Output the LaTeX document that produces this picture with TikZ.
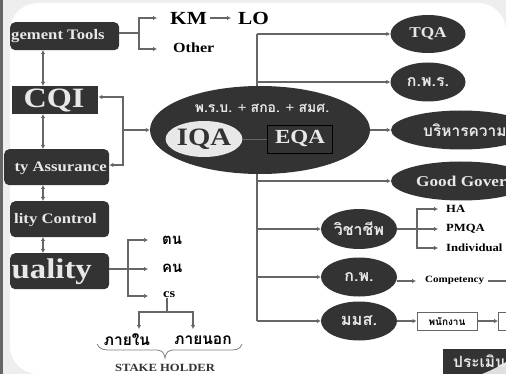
\documentclass[tikz,border=0pt]{standalone}
\usepackage{fontspec}
\setmainfont[FakeStretch=1.15]{Liberation Serif}
\newfontfamily\thaifont[Script=Thai]{Loma}
\usetikzlibrary{arrows.meta,shapes.geometric}
\definecolor{dk}{HTML}{333333}
\definecolor{ln}{HTML}{666666}
\definecolor{lt}{HTML}{E8E8E8}
\newcommand{\fsz}[1]{\fontsize{#1}{#1}\selectfont}
\tikzset{
  x=1pt,y=-1pt,
  conn/.style={draw=ln,line width=1.2pt,-{Latex[length=4pt,width=4.5pt]}},
  plainline/.style={draw=ln,line width=1.2pt},
  both/.style={draw=ln,line width=1.2pt,{Latex[length=4pt,width=4.5pt]}-{Latex[length=4pt,width=4.5pt]}},
  box/.style={fill=dk,rounded corners=5pt,inner sep=0pt},
  oval/.style={ellipse,fill=dk,inner sep=0pt,text=lt,font=\bfseries},
  onbox/.style={inner sep=0pt,text=lt},
  lab/.style={inner sep=0pt,text=black,font=\bfseries},
  wbox/.style={draw=ln,fill=white,line width=.9pt,inner sep=0pt},
  small/.style={lab,font=\bfseries\fsz{11},anchor=west},
}
\begin{document}
\begin{tikzpicture}
\useasboundingbox (0,0) rectangle (506,374);
\clip (0,0) rectangle (506,374);
\fill[gray!13] (0,0) rectangle (506,374);
\fill[white,rounded corners=28pt] (10,3) rectangle (506,374);
\fill[ln] (0,0) rectangle (3,374);
% left column
\node[box,minimum width=109,minimum height=28,anchor=north west] (tools) at (10,22) {};
\node[onbox,font=\bfseries\fsz{14.5},anchor=west] at (11,36) {gement Tools};
\node[box,rounded corners=0pt,minimum width=86,minimum height=28,anchor=north west] (cqi) at (12,86) {};
\node[onbox,font=\bfseries\fsz{28}] at (54,101) {CQI};
\node[box,minimum width=105,minimum height=36,anchor=north west] (assur) at (4,149) {};
\node[onbox,font=\bfseries\fsz{14.5},anchor=east] at (107,168) {ty Assurance};
\node[box,minimum width=99,minimum height=36,anchor=north west] (qc) at (10,201) {};
\node[onbox,font=\bfseries\fsz{14.5},anchor=east] at (97,220) {lity Control};
\node[box,minimum width=99,minimum height=36,anchor=north west] (qual) at (10,253) {};
\node[onbox,font=\bfseries\fsz{28.5},anchor=east] at (92,272) {uality};
% double arrows
\coordinate (t1) at (43,50);\coordinate (c1) at (43,86);
\coordinate (c2) at (43,114);\coordinate (a1) at (43,149);
\coordinate (a2) at (43,185);\coordinate (q1) at (43,201);
\coordinate (q2) at (43,237);\coordinate (u1) at (43,253);
\draw[both] (t1)--(c1);\draw[both] (c2)--(a1);\draw[both] (a2)--(q1);\draw[both] (q2)--(u1);
% KM
\node[lab,font=\bfseries\fsz{18.5},anchor=west] (km) at (170,18) {KM};
\node[lab,font=\bfseries\fsz{18.5},anchor=west] (lo) at (238,18) {LO};
\node[lab,font=\bfseries\fsz{14},anchor=west] (other) at (173,48) {Other};
\draw[conn,shorten >=7pt,shorten <=3pt] (km)--(lo);
\coordinate (tj) at (139,33);
\draw[plainline] (tools.east |- tj)--(tj);
\draw[conn] (tj)|-(157,18);
\draw[conn] (tj)|-(157,49);
% bus (passes behind the central ellipse)
\coordinate (bt) at (257,34);\coordinate (bb) at (257,321);
\draw[plainline] (bb)--(bt);
% central
\node[oval,minimum width=220,minimum height=88] (iqaeqa) at (260,130) {};
\node[onbox,font=\bfseries\fsz{14}] at (262,108) {{\thaifont พ.ร.บ.} + {\thaifont สกอ.} + {\thaifont สมศ.}};
\node[ellipse,fill=lt,minimum width=74,minimum height=36,inner sep=0pt,font=\bfseries\fsz{25},text=dk] (iqa) at (204,139) {IQA};
\node[rectangle,draw=black,fill=dk,minimum width=65,minimum height=28,inner sep=0pt,text=lt,font=\bfseries\fsz{20}] (eqa) at (300,139) {EQA};
\draw[draw=ln,line width=.5pt] (iqa)--(eqa);
% loop
\coordinate (lp1) at (123,97);\coordinate (lp2) at (123,165);\coordinate (lp3) at (123,130);
\draw[both] (cqi.east |- lp1)--(lp1)--(lp2)--(assur.east |- lp2);
\draw[conn] (lp3)--(iqaeqa.west);
\node[oval,minimum width=75,minimum height=38,font=\bfseries\fsz{15}] (tqa) at (428,34) {TQA};
\node[oval,minimum width=75,minimum height=39,font=\thaifont\bfseries\fsz{16}] (kpr) at (428,82) {ก.พ.ร.};
\node[oval,minimum width=140,minimum height=39] (bor) at (461,130) {};
\node[onbox,font=\thaifont\bfseries\fsz{15.5},anchor=west] at (423,130) {บริหารความ};
\node[oval,minimum width=140,minimum height=39] (good) at (461,181) {};
\node[onbox,font=\bfseries\fsz{15},anchor=west] at (416,181) {Good Gover};
\node[oval,minimum width=76,minimum height=40,font=\thaifont\bfseries\fsz{16}] (wc) at (359,229) {วิชาชีพ};
\node[oval,minimum width=76,minimum height=39,font=\thaifont\bfseries\fsz{16}] (kp) at (359,277) {ก.พ.};
\node[oval,minimum width=76,minimum height=39,font=\thaifont\bfseries\fsz{16.5}] (mms) at (359,321) {มมส.};
\draw[conn] (bt)--(tqa.west);
\draw[conn] (bt |- kpr.west)--(kpr.west);
\draw[conn] (iqaeqa.east)--(bor.west);
\draw[conn] (bt |- good.west)--(good.west);
\draw[conn] (bt |- wc.west)--(wc.west);
\draw[conn] (bt |- kp.west)--(kp.west);
\draw[conn] (bb)--(mms.west);
% professional
\node[small] (ha) at (446,209) {HA};
\node[small] (pmqa) at (446,229) {PMQA};
\node[small] (ind) at (446,248) {Individual};
\coordinate (wj) at (417,229);
\draw[plainline] (wc.east)--(wj);
\draw[conn] (wj)|-(438,209);
\draw[conn] (wj)--(438,229);
\draw[conn] (wj)|-(438,248);
% competency
\node[lab,font=\bfseries\fsz{9.6},anchor=west] (comp) at (425,280) {Competency};
\coordinate (ca) at (416,281);
\draw[conn] (kp.east |- ca)--(ca);
\coordinate (ce) at (506,281);
\draw[plainline] (488,281)--(ce);
% mms chain
\node[wbox,minimum width=60,minimum height=18,font=\thaifont\bfseries\fsz{10}] (pn) at (447,321) {พนักงาน};
\node[wbox,minimum width=30,minimum height=18,anchor=west] (nx) at (498,321) {};
\draw[conn] (mms.east)--(pn.west);
\draw[conn] (pn.east)--(nx.west);
% bottom right
\fill[dk] (443,349) rectangle (506,374);
\fill[gray!25] (506,362) .. controls (498,367) and (490,371) .. (482,374) -- (506,374) -- cycle;
\node[onbox,font=\thaifont\bfseries\fsz{15.5},anchor=west] at (453,361) {ประเมิน};
% quality branches
\node[lab,font=\thaifont\bfseries\fsz{15},anchor=west] (ton) at (162,240) {ตน};
\node[lab,font=\thaifont\bfseries\fsz{15},anchor=west] (kon) at (162,268) {คน};
\node[lab,font=\bfseries\fsz{12.5},anchor=west] (cs) at (163,295) {cs};
\coordinate (qj) at (128,269);
\draw[plainline] (qual.east |- qj)--(qj);
\draw[conn] (qj)|-(148,240);
\draw[conn] (qj)--(148,269);
\draw[conn] (qj)|-(148,296);
% stakeholder
\node[lab,font=\thaifont\bfseries\fsz{15.5}] (inn) at (127,340) {ภายใน};
\node[lab,font=\thaifont\bfseries\fsz{15.5}] (outt) at (203,340) {ภายนอก};
\coordinate (sj) at (167,312);
\coordinate (ai) at (139,329);\coordinate (ao) at (193,329);
\draw[plainline] (sj |- cs.south)--(sj);
\draw[conn] (sj)-|(ai);
\draw[conn] (sj)-|(ao);
\draw[draw=gray,line width=.8pt] (97,344) .. controls (100,350) and (104,350) .. (112,350) -- (155,350) .. controls (162,350) and (164,352) .. (165,358) .. controls (166,352) and (168,350) .. (175,350) -- (228,350) .. controls (236,350) and (240,350) .. (242,344);
\node[lab,font=\bfseries\fsz{11},text=dk] (sh) at (165,368) {STAKE HOLDER};
\end{tikzpicture}
\end{document}
